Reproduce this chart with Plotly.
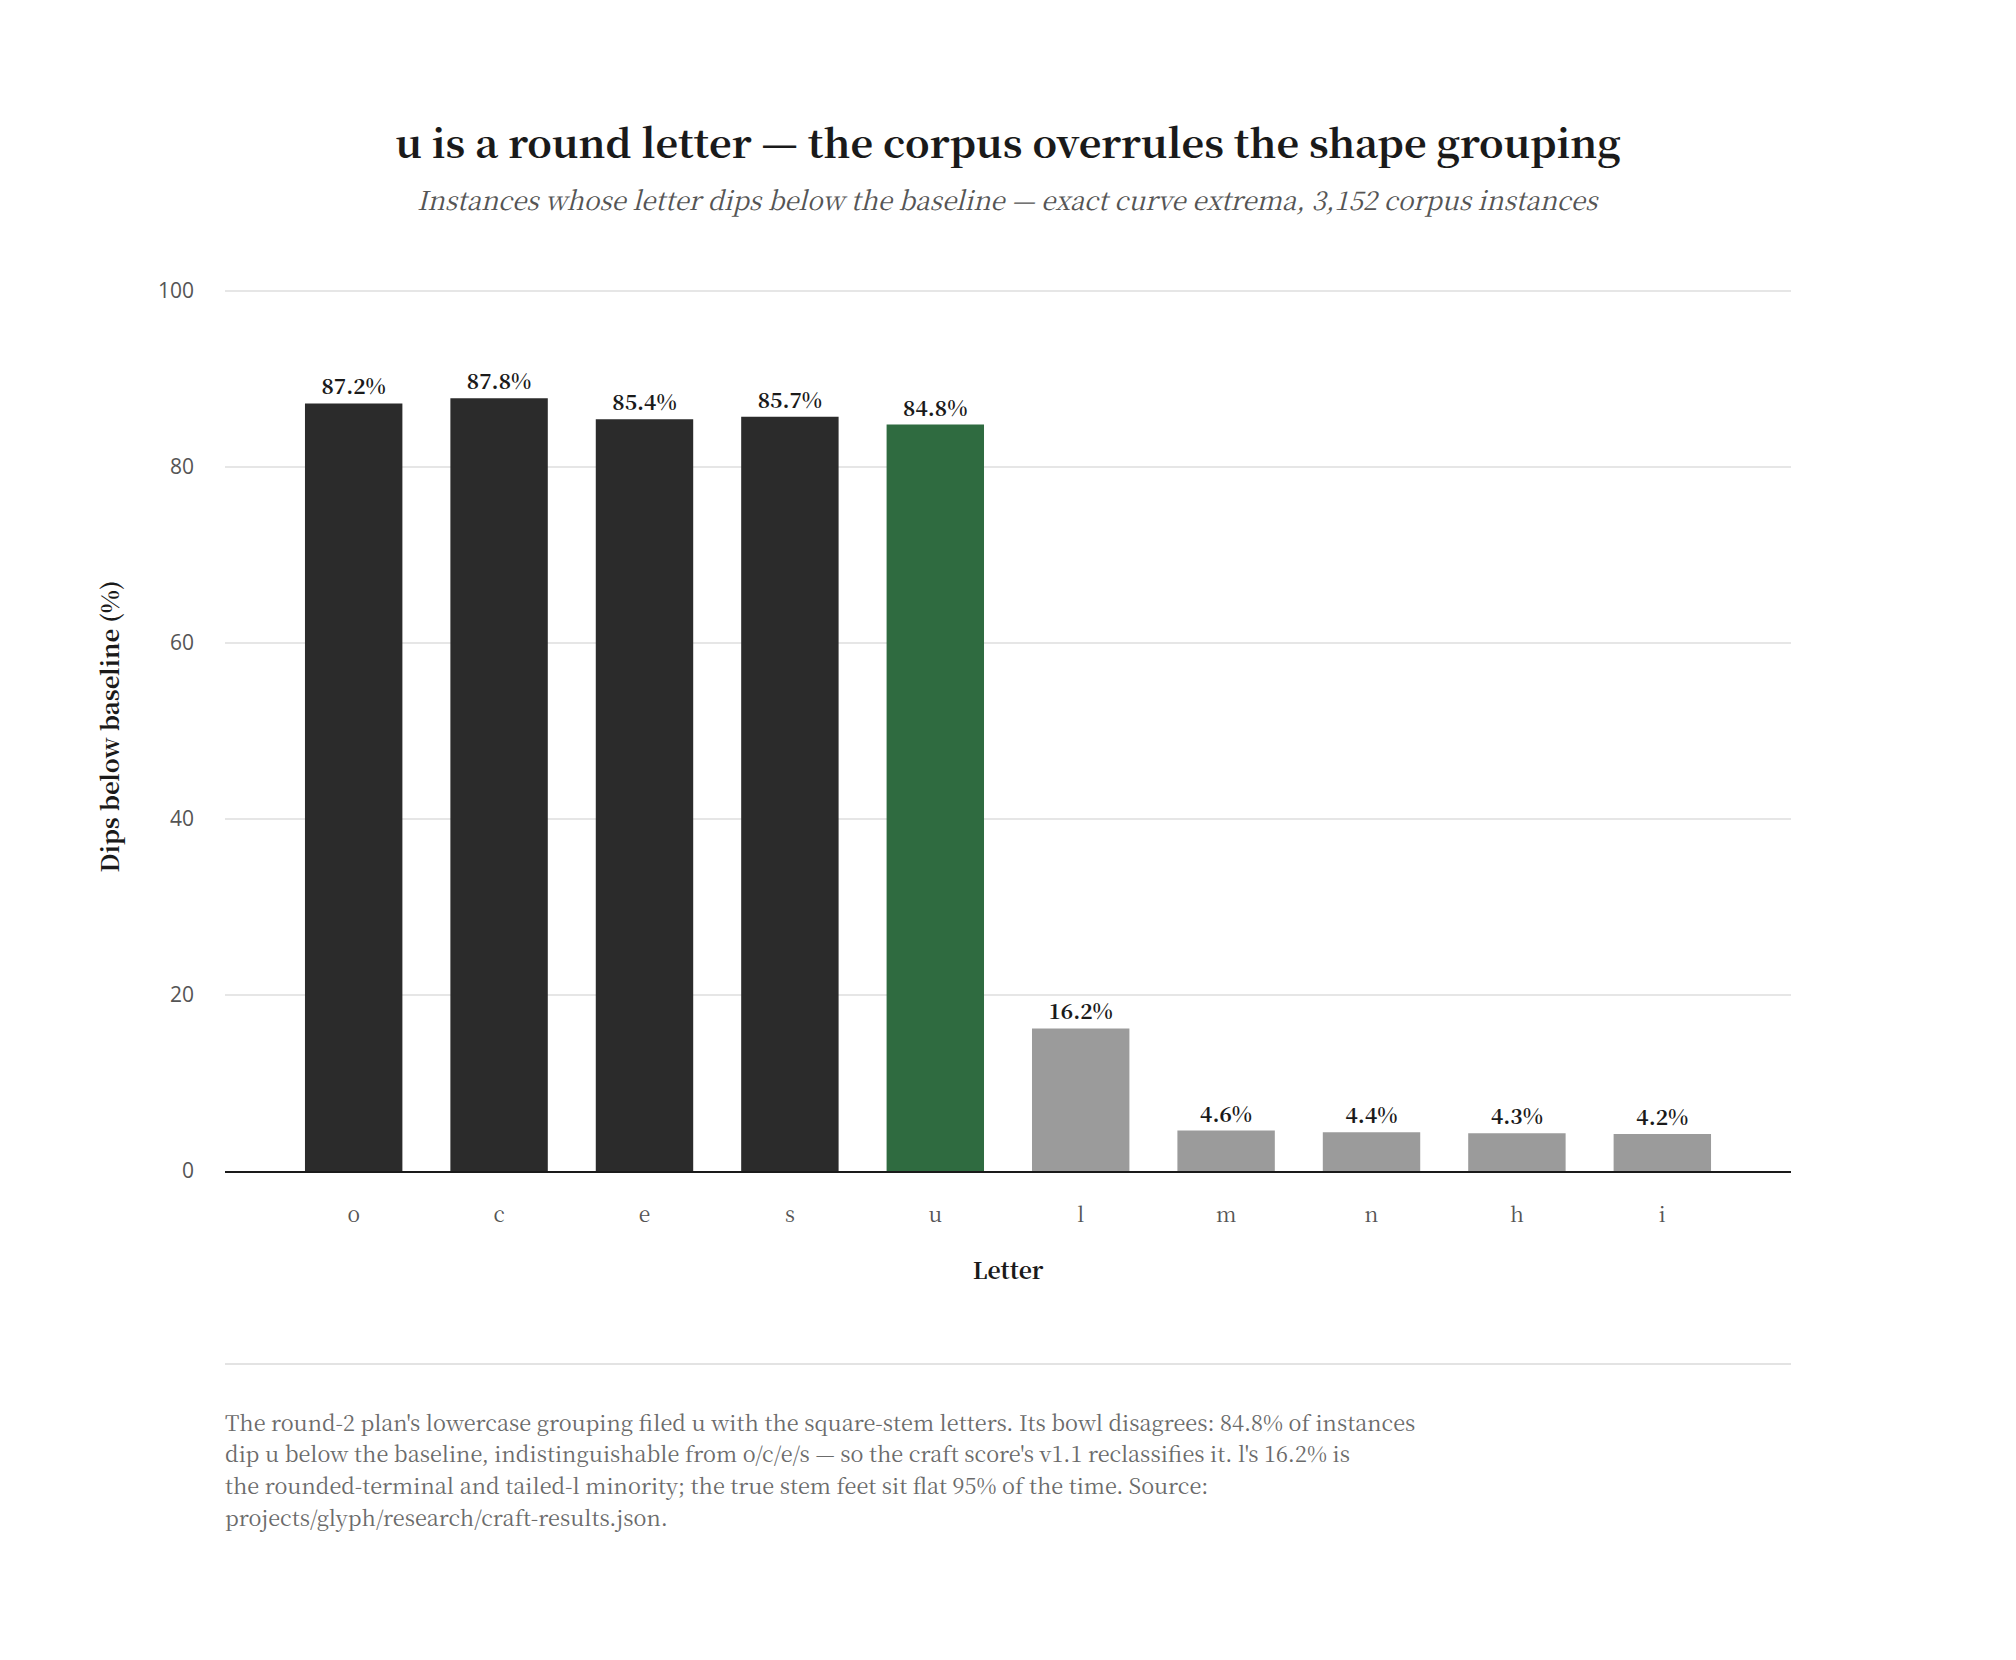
import plotly.graph_objects as go

letters = ["o", "c", "e", "s", "u", "l", "m", "n", "h", "i"]
dips_pct = [87.2, 87.8, 85.4, 85.7, 84.8, 16.2, 4.6, 4.4, 4.3, 4.2]
groups = ["round", "round", "round", "round", "highlight", "stem", "stem", "stem", "stem", "stem"]
y_ticks = [0, 20, 40, 60, 80, 100]

title_text = "u is a round letter — the corpus overrules the shape grouping"
subtitle_text = "Instances whose letter dips below the baseline — exact curve extrema, 3,152 corpus instances"
footnote_lines = [
    "The round-2 plan's lowercase grouping filed u with the square-stem letters. Its bowl disagrees: 84.8% of instances",
    "dip u below the baseline, indistinguishable from o/c/e/s — so the craft score's v1.1 reclassifies it. l's 16.2% is",
    "the rounded-terminal and tailed-l minority; the true stem feet sit flat 95% of the time. Source:",
    "projects/glyph/research/craft-results.json.",
]

color_map = {"round": "#2b2b2b", "highlight": "#2f6b40", "stem": "#9b9b9b"}
colors = [color_map[g] for g in groups]

SERIF = "Noto Serif CJK SC, serif"
SANS = "Open Sans, Noto Sans, sans-serif"

W, H = 2016, 1660
Y_TOP = 101.0
px_per_unit = 8.8
L, R, B = 225, 225, 489
T = int(round(291 - (Y_TOP - 100) * px_per_unit))
plot_h = H - T - B

fig = go.Figure()
fig.add_trace(go.Bar(
    x=list(range(len(letters))), y=dips_pct,
    width=0.67,
    marker=dict(color=colors, line=dict(width=0)),
    text=[f"{v:.1f}%" for v in dips_pct],
    textposition="outside",
    textfont=dict(family=SERIF, size=21, color="#1a1a1a", weight="bold"),
    cliponaxis=False,
    hoverinfo="skip",
))

def ypaper(px):
    return (H - B - px) / plot_h

annotations = [
    dict(text=f"<i>{subtitle_text}</i>", x=0.5, xref="paper", y=ypaper(199), yref="paper",
         xanchor="center", yanchor="middle", showarrow=False,
         font=dict(family=SERIF, size=26, color="#555555")),
]
for i, line in enumerate(footnote_lines):
    annotations.append(dict(
        text=line, x=0, xref="paper", y=ypaper(1421 + i * 31.7), yref="paper",
        xanchor="left", yanchor="middle", showarrow=False, xshift=-2,
        font=dict(family=SERIF, size=21.7, color="#6b6b6b"),
    ))

fig.update_layout(
    width=W, height=H,
    margin=dict(l=L, r=R, t=T, b=B),
    paper_bgcolor="white", plot_bgcolor="white",
    font=dict(family=SERIF, color="#333333"),
    title=dict(text=f"<b>{title_text}</b>", x=0.5, xanchor="center",
               y=1 - 144 / H, yanchor="middle", yref="container",
               font=dict(family=SERIF, size=39.5, color="#1a1a1a")),
    showlegend=False,
    annotations=annotations,
    shapes=[dict(type="line", xref="paper", yref="paper", x0=0, x1=1,
                 y0=ypaper(1364), y1=ypaper(1364),
                 line=dict(color="#e3e3e3", width=2))],
    xaxis=dict(
        title=dict(text="<b>Letter</b>", font=dict(family=SERIF, size=23, color="#1a1a1a"), standoff=36),
        tickmode="array", tickvals=list(range(len(letters))), ticktext=letters,
        range=[-0.885, len(letters) - 1 + 0.885],
        tickfont=dict(family=SERIF, size=21, color="#555555"),
        ticks="", ticklabelstandoff=24,
        showgrid=False, showline=True, linecolor="#1a1a1a", linewidth=2,
    ),
    yaxis=dict(
        title=dict(text="<b>Dips below baseline (%)</b>", font=dict(family=SERIF, size=24, color="#1a1a1a"), standoff=31),
        tickfont=dict(family=SANS, size=21, color="#555555"),
        range=[0, Y_TOP], tickvals=y_ticks, ticks="", ticklabelstandoff=30,
        showgrid=True, gridcolor="#e6e6e6", gridwidth=1.5,
        zeroline=False, showline=False,
    ),
)

fig.write_html("out.html")
